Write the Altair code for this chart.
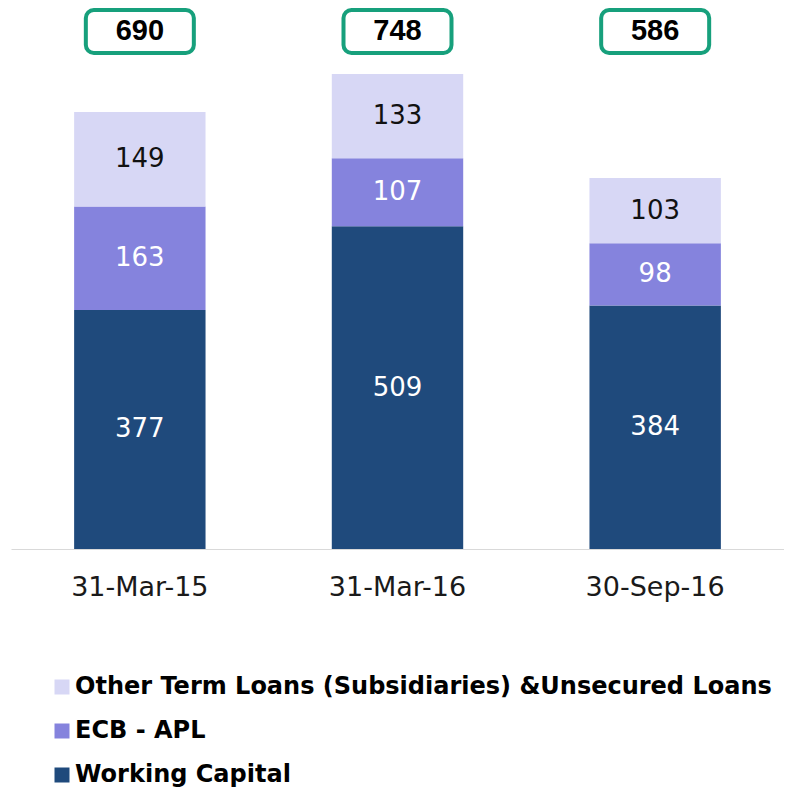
import altair as alt
import pandas as pd

categories = ["31-Mar-15", "31-Mar-16", "30-Sep-16"]
series = ["Other Term Loans (Subsidiaries) &Unsecured Loans", "ECB - APL", "Working Capital"]
working_capital = [377, 509, 384]
ecb_apl = [163, 107, 98]
other_loans = [149, 133, 103]
totals = [690, 748, 586]

colors = ["#d7d7f5", "#8583dd", "#1f4a7c"]
FONT = "DejaVu Sans"
BOLDFONT = "Liberation Sans"

rows = []
for i, c in enumerate(categories):
    base = 0
    for order, (s, vals) in enumerate([(series[2], working_capital), (series[1], ecb_apl), (series[0], other_loans)]):
        v = vals[i]
        rows.append({"cat": c, "series": s, "value": v, "ord": order, "mid": base + v / 2})
        base += v
df = pd.DataFrame(rows)
tot = pd.DataFrame({"cat": categories, "total": totals})

xenc = alt.X("cat:N", sort=categories, title=None,
             scale=alt.Scale(paddingInner=0.49, paddingOuter=0.245),
             axis=alt.Axis(labelFontSize=27, labelFont=FONT, labelColor="#1a1a1a", labelAngle=0,
                           ticks=False, domainColor="#d9d9d9", domainWidth=1, labelPadding=25, grid=False))
yscale = alt.Scale(domain=[0, 853], nice=False, zero=True)

bars = alt.Chart(df).mark_bar().encode(
    x=xenc,
    y=alt.Y("value:Q", stack="zero", scale=yscale, axis=None),
    color=alt.Color("series:N", scale=alt.Scale(domain=series, range=colors),
                    legend=alt.Legend(title=None, orient="none", legendX=39, legendY=667, direction="vertical",
                                      symbolType="square", symbolSize=225, symbolStrokeWidth=0,
                                      labelFont=FONT, labelFontSize=24, labelFontWeight="bold",
                                      labelColor="#000000", labelLimit=800, rowPadding=20, labelOffset=1,
                                      padding=0)),
    order=alt.Order("ord:Q", sort="ascending"),
)

labels = alt.Chart(df).mark_text(font=FONT, fontSize=26, baseline="middle").encode(
    x=alt.X("cat:N", sort=categories),
    y=alt.Y("mid:Q", scale=yscale),
    text="value:Q",
    color=alt.condition(alt.datum.ord == 2, alt.value("#111111"), alt.value("#ffffff")),
)

boxes = alt.Chart(tot).mark_bar(width=108, cornerRadius=8, fill="white", stroke="#17a07c", strokeWidth=4).encode(
    x=alt.X("cat:N", sort=categories),
    y=alt.value(2),
    y2=alt.value(45),
)

box_text = alt.Chart(tot).mark_text(font=BOLDFONT, fontSize=29, fontWeight="bold", color="#000000", baseline="middle").encode(
    x=alt.X("cat:N", sort=categories),
    y=alt.value(23),
    text="total:Q",
)

chart = alt.layer(bars, labels, boxes, box_text).properties(
    width=773, height=541,
    autosize=alt.AutoSizeParams(type="none"),
    padding={"left": 3, "top": 0, "right": 0, "bottom": 240},
).configure_view(stroke=None)

chart.save("out.html", embed_options={"renderer": "svg", "actions": False})
